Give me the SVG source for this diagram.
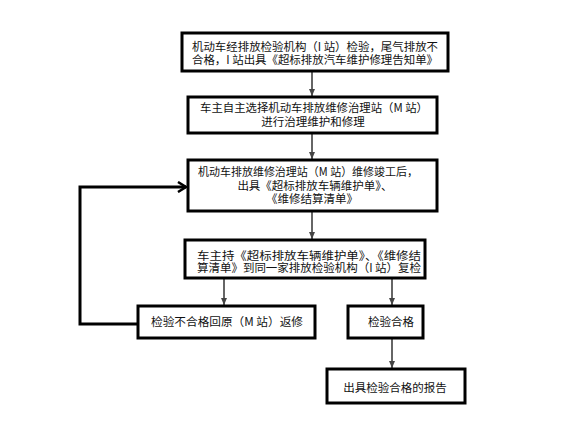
<svg xmlns="http://www.w3.org/2000/svg" width="585" height="423" viewBox="0 0 585 423">
<defs>
<style>
.box{fill:#fff;stroke:#000;stroke-width:3}
.t{font-family:"Noto Sans CJK SC","Liberation Sans",sans-serif;font-size:11.5px;fill:#111;text-anchor:middle}
.c{fill:none;stroke:#666;stroke-width:2}
.k{fill:none;stroke:#000;stroke-width:3}
</style>
<marker id="ag" markerWidth="8" markerHeight="8" refX="7" refY="4" orient="auto" markerUnits="userSpaceOnUse"><path d="M0,1 L7,4 L0,7 Z" fill="#444"/></marker>
<marker id="ab" markerWidth="12" markerHeight="12" refX="10" refY="6" orient="auto" markerUnits="userSpaceOnUse"><path d="M2,1 L10,6 L2,11" fill="none" stroke="#000" stroke-width="2.5"/></marker>
</defs>
<rect width="585" height="423" fill="#fff"/>
<g id="connectors">
<line class="c" x1="312" y1="71" x2="312" y2="96" marker-end="url(#ag)"/>
<line class="c" x1="312" y1="133" x2="312" y2="159" marker-end="url(#ag)"/>
<line class="c" x1="312" y1="211" x2="312" y2="239" marker-end="url(#ag)"/>
<line class="c" x1="224" y1="278" x2="224" y2="305" marker-end="url(#ag)"/>
<line class="c" x1="392" y1="278" x2="392" y2="305" marker-end="url(#ag)"/>
<line class="c" x1="392" y1="338" x2="392" y2="368" marker-end="url(#ag)"/>
<polyline class="k" points="138,324 80,324 80,187 186,187" marker-end="url(#ab)"/>
</g>
<g id="n1"><rect class="box" x="182" y="33" width="266" height="38"/>
<text class="t" x="315" y="50.5" textLength="246" lengthAdjust="spacingAndGlyphs">机动车经排放检验机构（I 站）检验，尾气排放不</text>
<text class="t" x="315" y="63.5" textLength="246" lengthAdjust="spacingAndGlyphs">合格，I 站出具《超标排放汽车维护修理告知单》</text></g>
<g id="n2"><rect class="box" x="188" y="97" width="249" height="36"/>
<text class="t" x="314" y="112" textLength="228" lengthAdjust="spacingAndGlyphs">车主自主选择机动车排放维修治理站（M 站）</text>
<text class="t" x="313" y="126">进行治理维护和修理</text></g>
<g id="n3"><rect class="box" x="188" y="160" width="249" height="51"/>
<text class="t" x="308" y="175.5" textLength="220" lengthAdjust="spacingAndGlyphs">机动车排放维修治理站（M 站）维修竣工后，</text>
<text class="t" x="315" y="190">出具《超标排放车辆维护单》、</text>
<text class="t" x="312" y="202.5">《维修结算清单》</text></g>
<g id="n4"><rect class="box" x="185" y="240" width="240" height="38"/>
<text class="t" x="309" y="260" textLength="224" lengthAdjust="spacingAndGlyphs">车主持《超标排放车辆维护单》、《维修结</text>
<text class="t" x="309" y="272" textLength="224" lengthAdjust="spacingAndGlyphs">算清单》到同一家排放检验机构（I 站）复检</text></g>
<g id="n5"><rect class="box" x="138" y="306" width="177" height="32"/>
<text class="t" x="227" y="326" textLength="152" lengthAdjust="spacingAndGlyphs">检验不合格回原（M 站）返修</text></g>
<g id="n6"><rect class="box" x="348" y="306" width="75" height="32"/>
<text class="t" x="391" y="326">检验合格</text></g>
<g id="n7"><rect class="box" x="327" y="369" width="138" height="34"/>
<text class="t" x="395" y="391.5">出具检验合格的报告</text></g>
</svg>
